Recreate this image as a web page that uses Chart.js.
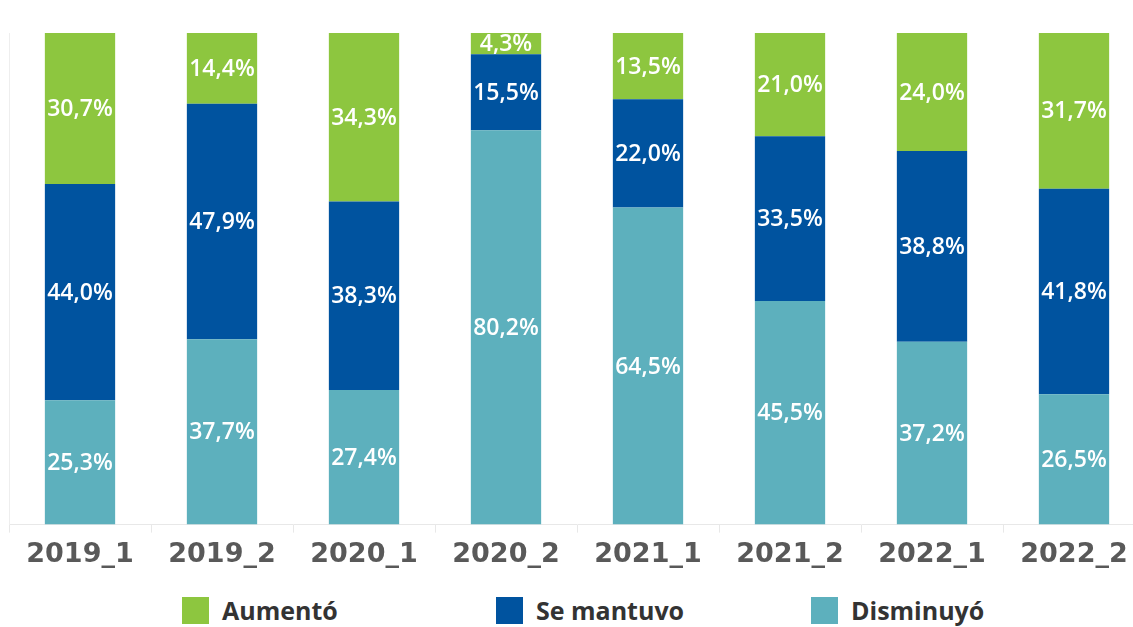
<!DOCTYPE html>
<html><head><meta charset="utf-8">
<script src="https://cdn.jsdelivr.net/npm/chart.js@4"></script>
<style>
html,body{margin:0;padding:0;background:#fff;overflow:hidden;width:1133px;height:627px;}
#wrap{position:absolute;left:0;top:0;width:1145px;height:577px;}
.leg{position:absolute;top:596px;height:28px;display:flex;align-items:center;font-family:"Open Sans";font-weight:700;font-size:25px;color:#333;white-space:nowrap;}
.leg span.b{display:inline-block;width:27px;height:27px;margin-right:13px;}
</style></head>
<body>
<div id="wrap"><canvas id="c"></canvas></div>
<div class="leg" style="left:182px"><span class="b" style="background:#8DC63F"></span>Aumentó</div>
<div class="leg" style="left:496px"><span class="b" style="background:#00539F"></span>Se mantuvo</div>
<div class="leg" style="left:811px"><span class="b" style="background:#5DB0BD"></span>Disminuyó</div>
<script>
const categories = ["2019_1","2019_2","2020_1","2020_2","2021_1","2021_2","2022_1","2022_2"];
const disminuyo = [25.3,37.7,27.4,80.2,64.5,45.5,37.2,26.5];
const seMantuvo = [44.0,47.9,38.3,15.5,22.0,33.5,38.8,41.8];
const aumento = [30.7,14.4,34.3,4.3,13.5,21.0,24.0,31.7];

const labelPlugin = {
  id:'lbl',
  afterDatasetsDraw(chart){
    const ctx = chart.ctx;
    ctx.save();
    ctx.font = '600 23px "Open Sans"';
    ctx.fillStyle = '#fff';
    ctx.textAlign = 'center';
    ctx.textBaseline = 'middle';
    chart.data.datasets.forEach((ds,i)=>{
      chart.getDatasetMeta(i).data.forEach((el,j)=>{
        const v = ds.data[j];
        const y = (el.y + el.base)/2;
        ctx.fillText(v.toFixed(1).replace('.',',')+'%', el.x, y+1);
      });
    });
    ctx.restore();
  }
};

new Chart(document.getElementById('c'),{
  type:'bar',
  data:{labels:categories,datasets:[
    {label:'Disminuyó',data:disminuyo,backgroundColor:'#5DB0BD'},
    {label:'Se mantuvo',data:seMantuvo,backgroundColor:'#00539F'},
    {label:'Aumentó',data:aumento,backgroundColor:'#8DC63F'}
  ]},
  options:{
    responsive:true,maintainAspectRatio:false,animation:false,
    layout:{padding:{left:1,top:33,right:0,bottom:0}},
    datasets:{bar:{categoryPercentage:1,barPercentage:0.495}},
    plugins:{legend:{display:false},tooltip:{enabled:false}},
    scales:{
      x:{stacked:true,
        grid:{display:true,drawOnChartArea:false,offset:true,tickLength:8,color:'#e8e8e8'},
        border:{display:true,color:'#e8e8e8'},
        ticks:{padding:6,color:'#595959',font:{family:'DejaVu Sans',weight:'bold',size:27}}},
      y:{stacked:true,min:0,max:100,display:true,
        grid:{display:false},
        border:{display:true,color:'#eeeeee'},
        ticks:{display:false}}
    }
  },
  plugins:[labelPlugin]
});
</script>
</body></html>
